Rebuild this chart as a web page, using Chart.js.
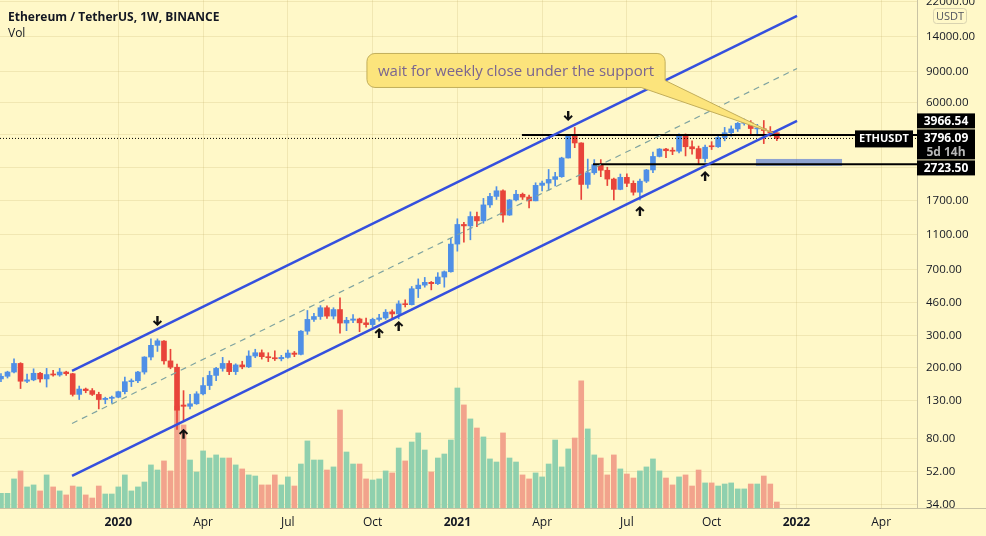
<!DOCTYPE html>
<html>
<head>
<meta charset="utf-8">
<script src="https://cdn.jsdelivr.net/npm/chart.js@4.4.1/dist/chart.umd.min.js"></script>
<style>
  html, body { margin: 0; padding: 0; background: #FFF8C8; overflow: hidden; }
  canvas { display: block; }
</style>
</head>
<body>
<canvas id="chart" width="986" height="536"></canvas>
<script>
// weekly candles, ETH/USDT, first week = 2019-09-02, index = week number
const opens = [172,178,188,210,167,170,185,172,182,181,188,184,141,151,148,141,132,134,136,146,
  166,168,188,228,265,280,217,200,123,121,125,142,158,180,197,210,189,206,201,231,
  241,229,226,223,227,240,236,318,370,384,430,386,420,353,366,372,354,346,370,377,
  408,397,452,447,549,575,596,586,638,683,975,1255,1232,1390,1314,1614,1800,1935,1416,1720,
  1850,1785,1700,2075,2137,2240,2320,2950,3900,3580,2100,2440,2710,2520,2250,1970,2300,2130,1900,2190,
  2530,3010,3310,3240,3220,3930,3410,3330,2930,3430,3410,3845,4085,4290,4610,4640,4290,4300,4150,4080];
const highs = [184,190,223,212,183,196,187,197,192,197,190,185,157,153,152,145,136,138,147,176,
  172,190,229,288,288,282,252,208,148,141,146,175,190,200,227,217,209,216,247,252,
  250,241,247,233,249,245,320,415,400,442,440,430,488,380,394,376,376,376,395,420,
  418,470,476,565,623,635,603,675,690,1050,1350,1290,1476,1470,1755,1871,2041,1960,1730,1945,
  1880,1830,2145,2196,2545,2450,2980,3985,4372,3590,2910,2890,2890,2620,2280,2400,2410,2200,2250,2550,
  3180,3330,3340,3370,4030,4025,3680,3440,3480,3640,3900,4375,4460,4660,4870,4770,4550,4780,4420,4090];
const lows = [166,174,186,152,164,168,165,155,178,178,180,138,132,144,139,117,125,126,135,142,
  156,164,183,220,245,208,196,90,101,117,124,140,150,168,190,182,182,196,199,226,
  222,215,218,217,225,229,234,305,360,370,375,372,310,320,355,316,335,334,362,370,
  374,373,434,445,490,560,541,579,560,680,890,1000,1030,1220,1275,1560,1730,1293,1410,1700,
  1730,1550,1700,1932,1950,2060,2300,2950,3370,1730,2000,2390,2320,2070,1720,1960,2040,1830,1720,2150,
  2440,2990,2960,3080,3150,3030,3100,2740,2800,3290,3380,3680,3900,4150,4500,3960,3920,3550,3890,3690];
const closes = [178,188,210,167,170,185,172,182,181,188,184,141,151,148,141,132,134,136,146,166,
  168,188,228,265,281,217,200,115,121,125,142,158,180,197,210,189,206,201,231,241,
  229,226,223,227,240,236,318,370,384,430,386,420,353,366,372,354,346,370,377,406,
  397,452,447,549,575,596,586,638,683,975,1255,1232,1390,1314,1614,1800,1935,1416,1720,1850,
  1785,1700,2075,2137,2240,2320,2950,3900,3580,2100,2440,2710,2520,2250,1970,2300,2130,1900,2190,2530,
  3010,3310,3240,3220,3930,3410,3320,2930,3390,3410,3845,4085,4290,4610,4640,4310,4300,4200,4080,3796.09];
// weekly volume, million ETH
const volumes = [1.10,1.10,2.18,2.78,1.58,1.73,1.28,2.48,1.58,1.28,0.98,1.65,1.58,0.98,0.75,1.65,1.05,1.05,1.58,2.48,
  1.28,1.58,1.95,3.23,2.85,3.53,2.78,7.65,6.23,3.60,2.70,4.28,3.75,3.98,3.75,3.75,3.23,2.93,2.48,2.40,
  1.73,1.73,2.48,1.73,2.33,1.65,3.30,5.03,3.60,3.60,2.85,3.08,7.35,4.20,3.30,3.30,2.18,2.10,2.18,2.78,
  2.63,4.50,3.53,4.95,5.63,4.35,2.70,3.75,4.05,5.10,9.00,7.73,6.68,6.00,5.33,3.68,3.45,5.63,3.75,3.45,
  2.48,2.18,2.63,2.33,3.30,5.10,3.08,4.43,5.25,9.53,5.93,3.98,3.75,2.48,3.98,2.93,2.55,2.25,2.78,3.08,
  3.68,2.78,2.25,1.73,2.33,2.48,1.65,2.85,1.88,1.88,1.65,1.80,1.88,1.43,1.43,1.80,1.80,2.40,1.80,0.45];

// time axis: week index of the first week of each month shown
const tickWeeks = [18, 31, 44, 57, 70, 83, 96, 109, 122, 135];
const tickLabels = ['2020', 'Apr', 'Jul', 'Oct', '2021', 'Apr', 'Jul', 'Oct', '2022', 'Apr'];
const priceTicks = [34, 52, 80, 130, 200, 300, 460, 700, 1100, 1700, 2600, 4000, 6000, 9000, 14000, 22000];
const hiddenTicks = [2600, 4000];

// drawings
const channelX = [10.9, 122.1];
const channelLower = [49.4, 4750];
const channelMid = [97, 9333];
const channelUpper = [190.6, 18340];
const resistance = 3966.54, resistanceFrom = 79.9;
const support = 2723.50, supportFrom = 90.8;
const lastPrice = 3796.09, countdown = '5d 14h';
const boxX = [115.8, 129.0], boxY = [2664, 2914];
const arrowWeeks = [24, 28, 58, 61, 87, 98, 108];
const arrowPrices = [362, 85, 311, 340, 5066, 1493, 2341];
const arrowDirs = ['down', 'up', 'up', 'up', 'down', 'up', 'up'];
const noteText = 'wait for weekly close under the support';
const noteCenter = [79.0, 9098], noteTip = [118.4, 4071];

const xMin = -0.15, xMax = 140.5, yMin = 32.7, yMax = 22520;
const BG = '#FFF8C8';
const UP = '#4F8FE6', DOWN = '#E8443A';
const VOL_UP = '#8FD0AE', VOL_DOWN = '#F2A38C';
const FONT = '"Open Sans", "Noto Sans", sans-serif';

const isUp = closes.map((c, i) => c >= opens[i]);
const candleColors = isUp.map(u => (u ? UP : DOWN));

function drawArrow(ctx, x, y, up) {
  ctx.save();
  ctx.translate(x, y);
  if (!up) ctx.scale(1, -1);
  ctx.beginPath();
  ctx.moveTo(0, -5);
  ctx.lineTo(4.6, -0.6);
  ctx.lineTo(3.2, 0.9);
  ctx.lineTo(1.2, -1.2);
  ctx.lineTo(1.2, 5);
  ctx.lineTo(-1.2, 5);
  ctx.lineTo(-1.2, -1.2);
  ctx.lineTo(-3.2, 0.9);
  ctx.lineTo(-4.6, -0.6);
  ctx.closePath();
  ctx.fillStyle = '#111';
  ctx.fill();
  ctx.restore();
}

function priceBox(ctx, top, h, lines) {
  ctx.fillStyle = '#000';
  ctx.fillRect(917, top, 58, h);
  lines.forEach(l => {
    ctx.fillStyle = l.color;
    ctx.font = 'bold 12px ' + FONT;
    ctx.textAlign = 'center';
    ctx.textBaseline = 'middle';
    ctx.fillText(l.text, 946, l.y);
  });
}

const overlay = {
  id: 'overlay',
  beforeDraw(chart) {
    const ctx = chart.ctx;
    ctx.save();
    ctx.fillStyle = BG;
    ctx.fillRect(0, 0, chart.width, chart.height);
    ctx.restore();
  },
  beforeDatasetsDraw(chart) {
    // blue zone around support, under the level line
    const ctx = chart.ctx, xs = chart.scales.x, ys = chart.scales.y;
    const bx0 = xs.getPixelForValue(boxX[0]), bx1 = xs.getPixelForValue(boxX[1]);
    const by0 = ys.getPixelForValue(boxY[1]), by1 = ys.getPixelForValue(boxY[0]);
    ctx.save();
    ctx.fillStyle = 'rgba(72,112,215,0.62)';
    ctx.fillRect(bx0, by0, bx1 - bx0, by1 - by0);
    ctx.restore();
  },
  afterDatasetsDraw(chart) {
    const ctx = chart.ctx, xs = chart.scales.x, ys = chart.scales.y, a = chart.chartArea;
    ctx.save();
    ctx.beginPath();
    ctx.rect(a.left, a.top, a.right - a.left, a.bottom - a.top);
    ctx.clip();

    // arrows
    arrowWeeks.forEach((w, i) => {
      drawArrow(ctx, xs.getPixelForValue(w), ys.getPixelForValue(arrowPrices[i]), arrowDirs[i] === 'up');
    });

    // callout
    ctx.font = '15px ' + FONT;
    const tw = ctx.measureText(noteText).width;
    const cx = xs.getPixelForValue(noteCenter[0]), cy = ys.getPixelForValue(noteCenter[1]);
    const L = cx - tw / 2 - 11, R = cx + tw / 2 + 11, T = cy - 17, B = cy + 17, r = 8;
    const tx = xs.getPixelForValue(noteTip[0]), ty = ys.getPixelForValue(noteTip[1]);
    ctx.beginPath();
    ctx.moveTo(L + r, T);
    ctx.lineTo(R - r, T);
    ctx.arcTo(R, T, R, T + r, r);
    ctx.lineTo(R, B - 7);
    ctx.lineTo(tx, ty);
    ctx.lineTo(R - 24, B);
    ctx.lineTo(L + r, B);
    ctx.arcTo(L, B, L, B - r, r);
    ctx.lineTo(L, T + r);
    ctx.arcTo(L, T, L + r, T, r);
    ctx.closePath();
    ctx.fillStyle = '#FCE47C';
    ctx.fill();
    ctx.strokeStyle = '#C2AE5A';
    ctx.lineWidth = 1;
    ctx.stroke();
    ctx.fillStyle = '#7A6590';
    ctx.textAlign = 'center';
    ctx.textBaseline = 'middle';
    ctx.fillText(noteText, cx, cy + 1);

    // symbol label on the last price line
    const ly = ys.getPixelForValue(lastPrice);
    ctx.fillStyle = '#000';
    ctx.fillRect(855, ly - 8, 58, 17);
    ctx.fillStyle = '#fff';
    ctx.font = 'bold 11px ' + FONT;
    ctx.fillText('ETHUSDT', 884, ly + 0.5);
    ctx.restore();
  },
  afterDraw(chart) {
    const ctx = chart.ctx, ys = chart.scales.y, a = chart.chartArea;
    ctx.save();
    // price axis is cut at the time axis line
    ctx.fillStyle = BG;
    ctx.fillRect(a.right + 1, a.bottom + 0.5, chart.width - a.right, chart.height - a.bottom);
    ctx.strokeStyle = '#C9C3A4';
    ctx.lineWidth = 1;
    ctx.beginPath();
    ctx.moveTo(a.right, a.bottom + 0.5);
    ctx.lineTo(chart.width, a.bottom + 0.5);
    ctx.stroke();

    // title
    ctx.fillStyle = '#131722';
    ctx.textAlign = 'left';
    ctx.textBaseline = 'alphabetic';
    ctx.font = 'bold 12px ' + FONT;
    ctx.fillText('Ethereum / TetherUS, 1W, BINANCE', 8, 21);
    ctx.font = '12px ' + FONT;
    ctx.fillText('Vol', 8, 37);

    // currency tag
    ctx.fillStyle = BG;
    ctx.strokeStyle = '#D9D3B0';
    ctx.beginPath();
    ctx.roundRect(933.5, 8.5, 33, 15, 3);
    ctx.fill();
    ctx.stroke();
    ctx.fillStyle = '#50535E';
    ctx.font = '11px ' + FONT;
    ctx.textAlign = 'center';
    ctx.textBaseline = 'middle';
    ctx.fillText('USDT', 950, 16.5);

    // price labels on the axis
    const yl = ys.getPixelForValue(lastPrice);
    const lastTop = yl - 9, lastBottom = yl + 21;
    const yr = ys.getPixelForValue(resistance);
    const rTop = Math.min(yr - 7.5, lastTop - 16);
    const yspt = ys.getPixelForValue(support);
    const sTop = Math.max(yspt - 7.5, lastBottom + 1);
    priceBox(ctx, rTop, 15, [{ text: resistance.toFixed(2), y: rTop + 8, color: '#fff' }]);
    priceBox(ctx, lastTop, 30, [
      { text: lastPrice.toFixed(2), y: yl + 0.5, color: '#fff' },
      { text: countdown, y: yl + 14, color: '#B8B8B8' }
    ]);
    priceBox(ctx, sTop, 15, [{ text: support.toFixed(2), y: sTop + 8, color: '#fff' }]);
    ctx.restore();
  }
};

const lineDs = (xsArr, ysArr, color, width, dash, order) => ({
  type: 'line',
  data: xsArr.map((x, i) => ({ x: x, y: ysArr[i] })),
  yAxisID: 'y',
  borderColor: color,
  borderWidth: width,
  borderDash: dash,
  pointRadius: 0,
  fill: false,
  tension: 0,
  order: order
});

new Chart(document.getElementById('chart'), {
  data: {
    datasets: [
      {
        type: 'bar',
        label: 'Vol',
        data: volumes.map((v, i) => ({ x: i, y: v })),
        yAxisID: 'yv',
        backgroundColor: isUp.map(u => (u ? VOL_UP : VOL_DOWN)),
        barThickness: 5,
        grouped: false,
        order: 9
      },
      {
        type: 'bar',
        label: 'wick',
        data: lows.map((l, i) => ({ x: i, y: [l, highs[i]] })),
        yAxisID: 'y',
        backgroundColor: candleColors,
        barThickness: 1,
        grouped: false,
        order: 8
      },
      {
        type: 'bar',
        label: 'body',
        data: opens.map((o, i) => ({ x: i, y: [o, closes[i]] })),
        yAxisID: 'y',
        backgroundColor: candleColors,
        barThickness: 5,
        minBarLength: 1,
        grouped: false,
        order: 7
      },
      lineDs([xMin, xMax], [lastPrice, lastPrice], '#000', 1, [1, 2], 6),
      lineDs([resistanceFrom, xMax], [resistance, resistance], '#000', 2, [], 5),
      lineDs([supportFrom, xMax], [support, support], '#000', 2, [], 4),
      lineDs(channelX, channelMid, '#7FA3A0', 1.2, [6, 5], 3),
      lineDs(channelX, channelLower, '#3550DE', 2.5, [], 2),
      lineDs(channelX, channelUpper, '#3550DE', 2.5, [], 1)
    ]
  },
  options: {
    responsive: false,
    animation: false,
    devicePixelRatio: 1,
    layout: { padding: 0 },
    plugins: { legend: { display: false }, tooltip: { enabled: false } },
    scales: {
      x: {
        type: 'linear',
        min: xMin,
        max: xMax,
        offset: false,
        afterBuildTicks: s => { s.ticks = tickWeeks.map(v => ({ value: v })); },
        afterFit: s => { s.height = 28; s.paddingLeft = 0; s.paddingRight = 0; },
        grid: { color: 'rgba(190,172,100,0.22)', drawTicks: false, offset: false },
        border: { color: '#C9C3A4' },
        ticks: {
          autoSkip: false,
          maxRotation: 0,
          padding: 7,
          color: '#131722',
          font: ctx => ({
            family: FONT,
            size: 12,
            weight: /^\d{4}$/.test(tickLabels[ctx.index]) ? 'bold' : 'normal'
          }),
          callback: (v, i) => tickLabels[i]
        }
      },
      y: {
        type: 'logarithmic',
        position: 'right',
        min: yMin,
        max: yMax,
        afterBuildTicks: s => { s.ticks = priceTicks.map(v => ({ value: v })); },
        afterFit: s => { s.width = 69; s.paddingTop = 0; s.paddingBottom = 0; },
        grid: { color: 'rgba(190,172,100,0.22)', drawTicks: false },
        border: { color: '#C9C3A4' },
        ticks: {
          autoSkip: false,
          padding: 9,
          color: '#131722',
          font: { family: FONT, size: 11.5 },
          callback: v => (hiddenTicks.includes(v) ? '' : Number(v).toFixed(2))
        }
      },
      yv: {
        type: 'linear',
        display: false,
        min: 0,
        max: 38.1
      }
    }
  },
  plugins: [overlay]
});
</script>
</body>
</html>
